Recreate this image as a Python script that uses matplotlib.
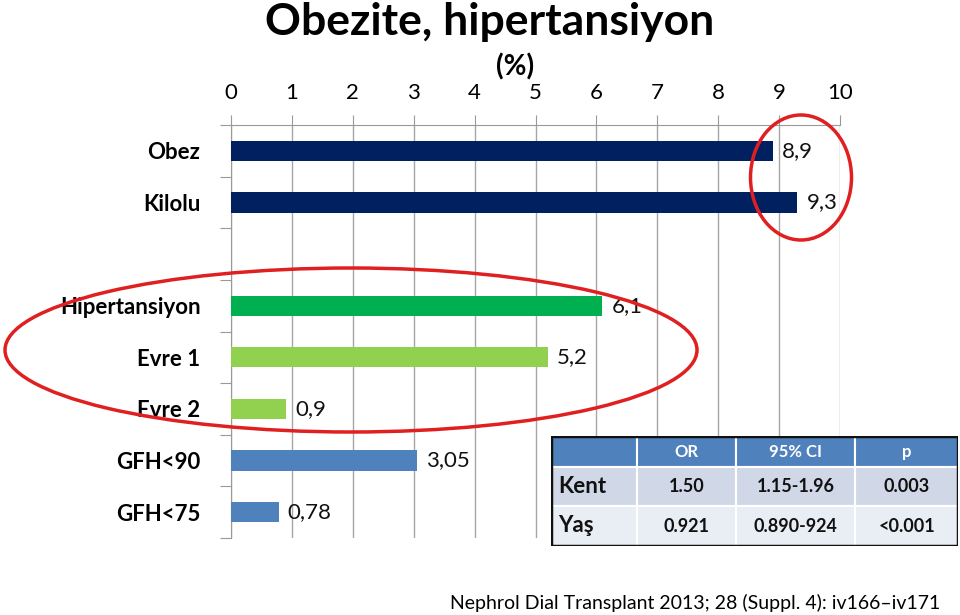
import matplotlib
matplotlib.use("Agg")
import matplotlib.pyplot as plt
from matplotlib.patches import Ellipse, Rectangle

plt.rcParams['font.family'] = ['Lato', 'DejaVu Sans']

categories = ["Obez", "Kilolu", "", "Hipertansiyon", "Evre 1", "Evre 2", "GFH<90", "GFH<75"]
values = [8.9, 9.3, None, 6.1, 5.2, 0.9, 3.05, 0.78]
value_labels = ["8,9", "9,3", "", "6,1", "5,2", "0,9", "3,05", "0,78"]
colors = ["#002060", "#002060", None, "#00B050", "#92D050", "#92D050", "#4F81BD", "#4F81BD"]
x_ticks = list(range(0, 11))

table_cols = ["", "OR", "95% CI", "p"]
table_rows = [["Kent", "1.50", "1.15-1.96", "0.003"],
              ["Yaş", "0.921", "0.890-924", "<0.001"]]

W, H = 960, 615
fig = plt.figure(figsize=(9.6, 6.15), dpi=100)
ax = fig.add_axes([231 / W, 1 - 538 / H, (840 - 231) / W, (538 - 125) / H])

ys = list(range(len(categories)))
for y, v, c, lab in zip(ys, values, colors, value_labels):
    if v is None:
        continue
    ax.barh(y, v, height=0.39, color=c, zorder=3)
    ax.text(v + 0.15, y, lab, va='center', ha='left', fontsize=16, color='#111111')

ax.set_xlim(0, 10)
ax.set_ylim(len(categories) - 0.5, -0.5)
ax.xaxis.tick_top()
ax.set_xticks(x_ticks)
ax.set_xticklabels([str(t) for t in x_ticks], fontsize=16)
ax.tick_params(axis='x', length=7, color='#999999', pad=9)
ax.grid(axis='x', color='#A6A6A6', lw=1, zorder=0)
ax.set_yticks([y - 0.5 for y in range(len(categories) + 1)])
ax.set_yticklabels([])
ax.set_yticks(ys, minor=True)
ax.set_yticklabels(categories, minor=True, fontsize=16, fontweight='bold')
ax.tick_params(axis='y', which='major', length=8, color='#999999')
ax.tick_params(axis='y', which='minor', length=0, pad=22)
for s in ['right', 'bottom']:
    ax.spines[s].set_visible(False)
for s in ['left', 'top']:
    ax.spines[s].set_color('#999999')

fig.text(490 / W, 1 - 22 / H, "Obezite, hipertansiyon", ha='center', va='center',
         fontsize=32, fontweight='bold')
fig.text(515 / W, 1 - 67 / H, "(%)", ha='center', va='center', fontsize=20, fontweight='bold')
fig.text(940 / W, 1 - 603 / H, "Nephrol Dial Transplant 2013; 28 (Suppl. 4): iv166\u2013iv171",
         ha='right', va='center', fontsize=14)

# ellipses
fig.patches.append(Ellipse((801 / W, 1 - 177.5 / H), 101 / W, 125 / H, transform=fig.transFigure,
                           fill=False, ec='#E02020', lw=2.5, zorder=10))
fig.patches.append(Ellipse((351 / W, 1 - 350 / H), 692 / W, 164 / H, transform=fig.transFigure,
                           fill=False, ec='#E02020', lw=2.5, zorder=10))

# table
tx0, tx1, ty0, ty1 = 551, 958, 436, 546
tax = fig.add_axes([tx0 / W, 1 - ty1 / H, (tx1 - tx0) / W, (ty1 - ty0) / H])
tax.set_xlim(tx0, tx1)
tax.set_ylim(ty1, ty0)
tax.axis('off')
col_edges = [551, 637, 736, 855, 958]
row_edges = [436, 467, 506, 546]
row_colors = ["#4F81BD", "#D0D8E8", "#E9EDF4"]
for r in range(3):
    for ci in range(4):
        tax.add_patch(Rectangle((col_edges[ci], row_edges[r]), col_edges[ci + 1] - col_edges[ci],
                                row_edges[r + 1] - row_edges[r], fc=row_colors[r], ec='white', lw=1.5))
tax.add_patch(Rectangle((tx0, ty0), tx1 - tx0, ty1 - ty0, fill=False, ec='#111111', lw=2.5, zorder=5))
for ci in range(1, 4):
    cx = (col_edges[ci] + col_edges[ci + 1]) / 2
    tax.text(cx, (row_edges[0] + row_edges[1]) / 2, table_cols[ci], ha='center', va='center',
             color='white', fontsize=12, fontweight='bold')
for r, row in enumerate(table_rows):
    cy = (row_edges[r + 1] + row_edges[r + 2]) / 2
    tax.text(558, cy, row[0], ha='left', va='center', fontsize=16, fontweight='bold', color='#111111')
    for ci in range(1, 4):
        cx = (col_edges[ci] + col_edges[ci + 1]) / 2
        tax.text(cx, cy, row[ci], ha='center', va='center', fontsize=13, fontweight='bold', color='#111111')

fig.savefig("out.png", dpi=100)
